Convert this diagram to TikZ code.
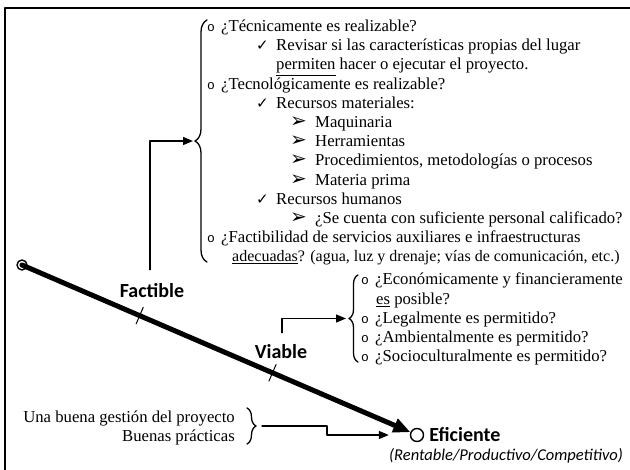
\documentclass[tikz,border=0pt]{standalone}
\usepackage{fontspec}
\setmainfont{Liberation Serif}
\newfontfamily\calfont{Carlito}
\newfontfamily\symfont{DejaVu Sans}
\newfontfamily\bulfont{Liberation Mono}
\usetikzlibrary{calc,positioning,arrows.meta,decorations.pathreplacing}

\newcommand{\bo}{\makebox[14pt][l]{\bulfont\fontsize{13}{13}\selectfont o}}
\newcommand{\ck}{\makebox[20pt][l]{\symfont\fontsize{15}{15}\selectfont ✓}}
\newcommand{\ar}{\makebox[25pt][l]{\symfont\fontsize{20}{20}\selectfont ➢}}

\tikzset{
  txt/.style={anchor=base west,inner sep=0pt,font=\fontsize{16.7}{19.3}\selectfont},
  txtr/.style={txt,anchor=base east},
  lbl/.style={font=\calfont\bfseries\fontsize{20}{24}\selectfont,inner sep=2pt},
  conn/.style={line width=1.3pt,-{Triangle[length=10pt,width=8pt]}},
  brc/.style={decorate,decoration={brace,amplitude=#1},line width=1.3pt},
  tick/.style={line width=1pt}
}

\begin{document}
\begin{tikzpicture}[x=1pt,y=-1pt,line cap=round,line join=round]
  \useasboundingbox (0,0) rectangle (630,470);
  \draw[line width=1.6pt] (5,470) -- (5,8) -- (630,8);

  % factible
  \node[txt] (t1) at (207,31.5) {\bo¿Técnicamente es realizable?};
  \node[txt] (t2) at (256,50.7) {\ck Revisar si las características propias del lugar};
  \node[txt] (t3) at (276,69.9) {\underline{permiten} hacer o ejecutar el proyecto.};
  \node[txt] (t4) at (207,89.1) {\bo¿Tecnológicamente es realizable?};
  \node[txt] (t5) at (256,108.3) {\ck Recursos materiales:};
  \node[txt] (t6) at (290,127.5) {\ar Maquinaria};
  \node[txt] (t7) at (290,146.7) {\ar Herramientas};
  \node[txt] (t8) at (290,165.9) {\ar Procedimientos, metodologías o procesos};
  \node[txt] (t9) at (290,185.1) {\ar Materia prima};
  \node[txt] (t10) at (256,204.3) {\ck Recursos humanos};
  \node[txt] (t11) at (290,223.5) {\ar ¿Se cuenta con suficiente personal calificado?};
  \node[txt] (t12) at (207,242.7) {\bo¿Factibilidad de servicios auxiliares e infraestructuras};
  \node[txt,font=\fontsize{16}{19.3}\selectfont] (t13) at (232,261.9) {\underline{adecuadas}? (agua, luz y drenaje; vías de comunicación, etc.)};

  % viable
  \node[txt] (v1) at (361,285) {\bo¿Económicamente y financieramente};
  \node[txt] (v2) at (376,304.2) {\underline{es} posible?};
  \node[txt] (v3) at (361,323.4) {\bo¿Legalmente es permitido?};
  \node[txt] (v4) at (361,342.6) {\bo¿Ambientalmente es permitido?};
  \node[txt] (v5) at (361,361.8) {\bo¿Socioculturalmente es permitido?};

  % eficiente
  \node[txtr] (g1) at (235,422.5) {Una buena gestión del proyecto};
  \node[txtr] (g2) at (235,441.5) {Buenas prácticas};

  \draw[brc=12pt] (207,262) -- (207,20);
  \draw[brc=9pt] (358,362) -- (358,275);
  \draw[brc=9pt] (247,408) -- (247,444);
  \coordinate (tipA) at (193,141);
  \coordinate (tipB) at (346,318.5);
  \coordinate (tipC) at (262,426);

  \node[circle,draw,line width=1.4pt,minimum size=10pt,inner sep=0pt] (inicio) at (22,265) {};
  \node[circle,draw,line width=1.4pt,minimum size=13pt,inner sep=0pt] (efic) at (417,435) {};
  \node[lbl,right=3pt of efic] (eficiente) {Eficiente};
  \node[font=\calfont\itshape\fontsize{16.5}{20}\selectfont,inner sep=0pt] (rentable) at (506,456) {(Rentable/Productivo/Competitivo)};

  \draw[line width=5pt,-{Triangle[length=17pt,width=14pt]}] (inicio.center) -- (efic);
  \path (inicio.center) -- (efic) coordinate[pos=0.303] (tickA) coordinate[pos=0.645] (tickB);
  \draw[tick] ($(tickA)!9pt!90:(efic)$) -- ($(tickA)!9pt!-90:(efic)$);
  \draw[tick] ($(tickB)!9pt!90:(efic)$) -- ($(tickB)!9pt!-90:(efic)$);

  \node[lbl] (factible) at (152,291) {Factible};
  \node[lbl] (viable) at (281,352) {Viable};

  \draw[conn] ($(factible.north)+(-2,-12)$) |- (tipA);
  \draw[conn] ($(viable.north)+(1,-10)$) |- (tipB);
  \draw[conn,shorten >=21pt] (tipC) -- ++(65,0) |- (efic.west);
\end{tikzpicture}
\end{document}
